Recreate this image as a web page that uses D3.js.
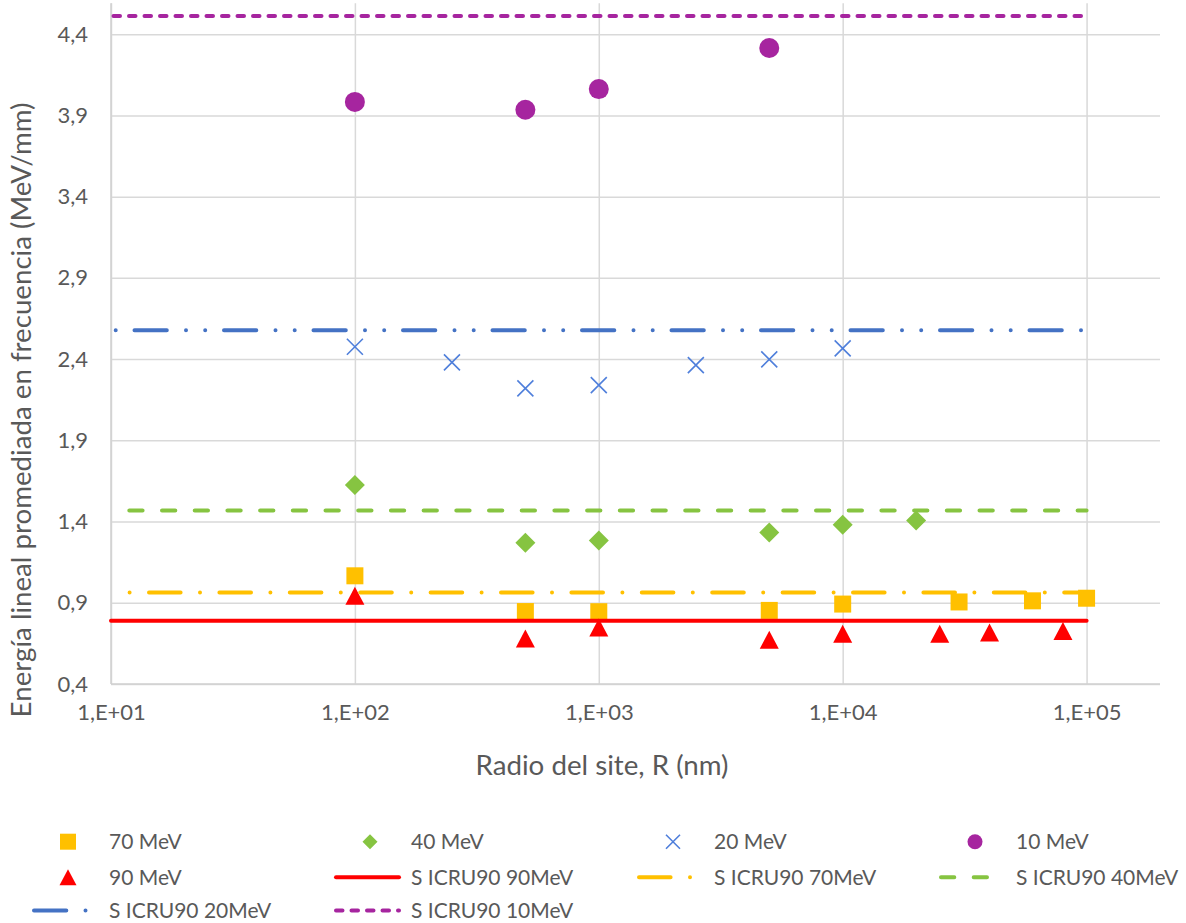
<!DOCTYPE html>
<html><head><meta charset="utf-8">
<script src="https://cdn.jsdelivr.net/npm/d3@7"></script>
<style>
html,body{margin:0;padding:0;background:#fff;}
svg{display:block;font-family:Lato,"Open Sans",sans-serif;}
</style></head>
<body>
<svg id="chart" width="1186" height="923"></svg>
<script>
// ---------- data ----------
const xTickValues = [10, 100, 1000, 10000, 100000];
const xTickLabels = ["1,E+01", "1,E+02", "1,E+03", "1,E+04", "1,E+05"];
const yTickValues = [0.4, 0.9, 1.4, 1.9, 2.4, 2.9, 3.4, 3.9, 4.4];
const yTickLabels = ["0,4", "0,9", "1,4", "1,9", "2,4", "2,9", "3,4", "3,9", "4,4"];

const r70 = [100, 500, 1000, 5000, 10000, 30000, 60000, 100000];
const y70 = [1.066, 0.846, 0.845, 0.853, 0.892, 0.905, 0.912, 0.928];
const r40 = [100, 500, 1000, 5000, 10000, 20000];
const y40 = [1.625, 1.270, 1.283, 1.332, 1.380, 1.406];
const r20 = [100, 250, 500, 1000, 2500, 5000, 10000];
const y20 = [2.476, 2.380, 2.220, 2.240, 2.363, 2.398, 2.466];
const r10 = [100, 500, 1000, 5000];
const y10 = [3.983, 3.935, 4.062, 4.315];
const r90 = [100, 500, 1000, 5000, 10000, 25000, 40000, 80000];
const y90 = [0.943, 0.680, 0.748, 0.672, 0.710, 0.710, 0.717, 0.726];

const refRange = [10, 100000];
const sNames = ["S ICRU90 90MeV", "S ICRU90 70MeV", "S ICRU90 40MeV", "S ICRU90 20MeV", "S ICRU90 10MeV"];
const sValues = [0.790, 0.963, 1.468, 2.578, 4.512];

const xTitle = "Radio del site, R (nm)";
const yTitle = "Energía lineal promediada en frecuencia (MeV/mm)";

// ---------- styles ----------
const C = {y:"#FFC000", g:"#86C441", b:"#4472C4", bx:"#4F7FDB", p:"#A6259F", r:"#FF0000", txt:"#595959", grid:"#D9D9D9"};
const lineStyles = [
  {color:C.r, dash:null, off:0},
  {color:C.y, dash:"31.6,19.4,0,19.4", off:-38},
  {color:C.g, dash:"13.3,19.4", off:-18.3},
  {color:C.b, dash:"32.3,19.2,0,19.2,0,18.8", off:-23.5},
  {color:C.p, dash:"6.5,9", off:-2.5}
];

const svg = d3.select("#chart");
const x = d3.scaleLog().domain([10, 200000]).range([111, 1160]);
const y = d3.scaleLinear().domain([0.4, 4.59]).range([684, 3.3]);

// gridlines via axes
const gy = svg.append("g").attr("transform","translate(111,0)")
  .call(d3.axisLeft(y).tickValues(yTickValues).tickSize(-(1160-111)).tickFormat(""));
gy.select(".domain").remove();
gy.selectAll(".tick line").attr("stroke",C.grid).attr("stroke-width",1.5);

const gx = svg.append("g").attr("transform","translate(0,684)")
  .call(d3.axisBottom(x).tickValues(xTickValues).tickSize(-(684-3.3)).tickFormat(""));
gx.select(".domain").remove();
gx.selectAll(".tick line").attr("stroke",C.grid).attr("stroke-width",1.5);

// axis lines
svg.append("line").attr("x1",111).attr("x2",1160).attr("y1",684).attr("y2",684).attr("stroke","#D0D0D0").attr("stroke-width",1.5);
svg.append("line").attr("x1",111).attr("x2",111).attr("y1",3.3).attr("y2",684).attr("stroke","#D0D0D0").attr("stroke-width",1.5);

// tick labels via axes
const ay = svg.append("g").attr("transform","translate(111,0)")
  .call(d3.axisLeft(y).tickValues(yTickValues).tickSize(0).tickPadding(23)
    .tickFormat((d,i)=>yTickLabels[i]));
ay.select(".domain").remove();
ay.selectAll("text").attr("font-size",22).attr("fill",C.txt).attr("font-family","Lato");

const ax = svg.append("g").attr("transform","translate(0,684)")
  .call(d3.axisBottom(x).tickValues(xTickValues).tickSize(0).tickPadding(20)
    .tickFormat((d,i)=>xTickLabels[i]));
ax.select(".domain").remove();
ax.selectAll("text").attr("font-size",22).attr("fill",C.txt).attr("font-family","Lato");

// axis titles
function fit(sel, target){
  const w = sel.node().getComputedTextLength();
  const fs = parseFloat(sel.attr("font-size"));
  sel.attr("font-size", (fs*target/w).toFixed(2));
}
const xt = svg.append("text").attr("x",602).attr("y",775).attr("text-anchor","middle")
  .attr("font-size",25).attr("fill",C.txt).text(xTitle);
fit(xt, 253);
const yt = svg.append("text").attr("transform","translate(31,410) rotate(-90)").attr("text-anchor","middle")
  .attr("font-size",25).attr("fill",C.txt).text(yTitle);
fit(yt, 615);

// marker shapes
const shapes = {
  square:(s)=>`M${-s/2},${-s/2}h${s}v${s}h${-s}Z`,
  diamond:(s)=>`M0,${-s/2}L${s/2},0L0,${s/2}L${-s/2},0Z`,
  triangle:(s)=>`M0,${-s/2}L${s/2+0.5},${s/2}L${-s/2-0.5},${s/2}Z`,
  cross:(s)=>`M${-s/2},${-s/2}L${s/2},${s/2}M${s/2},${-s/2}L${-s/2},${s/2}`
};
function drawMarker(g, type, color, size){
  if(type==="circle"){
    g.append("circle").attr("r",size/2).attr("fill",color);
  } else if(type==="cross"){
    g.append("path").attr("d",shapes.cross(size)).attr("stroke",color).attr("stroke-width",1.6).attr("fill","none");
  } else {
    g.append("path").attr("d",shapes[type](size)).attr("fill",color);
  }
}

const series = [
  {name:"70 MeV", xs:r70, ys:y70, type:"square", color:C.y, size:17},
  {name:"40 MeV", xs:r40, ys:y40, type:"diamond", color:C.g, size:20},
  {name:"20 MeV", xs:r20, ys:y20, type:"cross", color:C.bx, size:16},
  {name:"10 MeV", xs:r10, ys:y10, type:"circle", color:C.p, size:20},
  {name:"90 MeV", xs:r90, ys:y90, type:"triangle", color:C.r, size:18}
];
series.forEach(s=>{
  const g = svg.append("g");
  s.xs.forEach((xv,i)=>{
    const m = g.append("g").attr("transform",`translate(${x(xv)},${y(s.ys[i])})`);
    drawMarker(m, s.type, s.color, s.size);
  });
});

// reference lines
const lineGen = d3.line().x(d=>x(d[0])).y(d=>y(d[1]));
sNames.forEach((n,i)=>{
  const st = lineStyles[i];
  const p = svg.append("path")
    .attr("d", lineGen(refRange.map(r=>[r, sValues[i]])))
    .attr("stroke",st.color).attr("stroke-width",4).attr("fill","none")
    .attr("stroke-linecap","round");
  if(st.dash){ p.attr("stroke-dasharray",st.dash).attr("stroke-dashoffset",st.off); }
});

// legend
const legendItems = [
  ...series.slice(0,4).map(s=>({name:s.name, marker:s})),
  {name:series[4].name, marker:series[4]},
  ...sNames.map((n,i)=>({name:n, line:lineStyles[i]}))
];
const colX = [32, 334, 637, 939];
const rowY = [841.7, 877.2, 910.5];
const legendSizes = {square:16, diamond:15, cross:14, circle:15, triangle:16};
legendItems.forEach((it,k)=>{
  const col = k%4, row = Math.floor(k/4);
  const g = svg.append("g").attr("transform",`translate(${colX[col]},${rowY[row]})`);
  if(it.marker){
    const m = g.append("g").attr("transform","translate(36,0)");
    drawMarker(m, it.marker.type, it.marker.color, legendSizes[it.marker.type]);
  } else {
    const p = g.append("line").attr("x1",2).attr("x2",65).attr("y1",0).attr("y2",0)
      .attr("stroke",it.line.color).attr("stroke-width",4).attr("stroke-linecap","round");
    if(it.line.dash) p.attr("stroke-dasharray",it.line.dash);
  }
  g.append("text").attr("x",77).attr("y",0).attr("dy","0.35em")
    .attr("font-size",21).attr("fill",C.txt).text(it.name);
});
</script>
</body></html>
